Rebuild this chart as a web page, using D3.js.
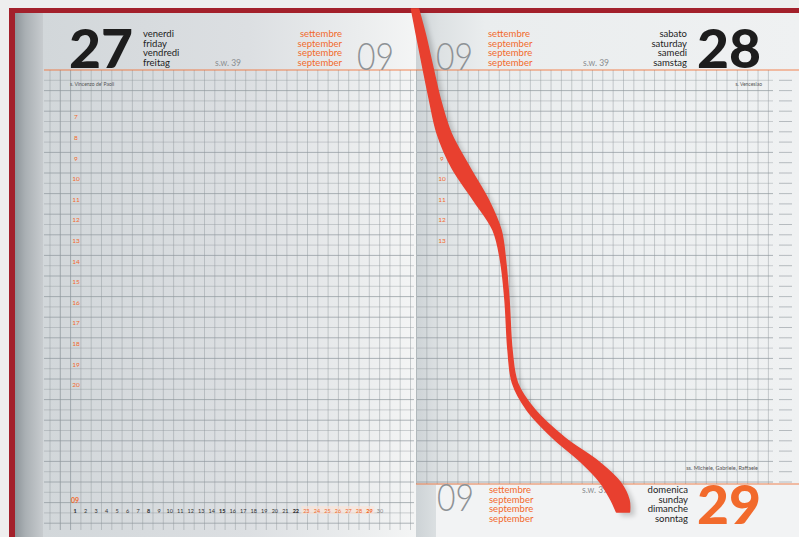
<!DOCTYPE html>
<html>
<head>
<meta charset="utf-8">
<script src="https://cdn.jsdelivr.net/npm/d3@7"></script>
<style>
  body { margin: 0; background: #eeeeee; }
  svg { display: block; }
  text { font-family: Lato, "Open Sans", "DejaVu Sans", sans-serif; }
</style>
</head>
<body>
<div class="diary"></div>
<script>
var svgWidth = 799;
var svgHeight = 537;

// diary content
var hoursFriday = [7, 8, 9, 10, 11, 12, 13, 14, 15, 16, 17, 18, 19, 20];
var hoursSaturday = [7, 8, 9, 10, 11, 12, 13];
var septDays = [1, 2, 3, 4, 5, 6, 7, 8, 9, 10, 11, 12, 13, 14, 15, 16, 17, 18, 19, 20, 21, 22, 23, 24, 25, 26, 27, 28, 29, 30];
var sundays = [1, 8, 15, 22, 29];
var currentWeek = [23, 24, 25, 26, 27, 28, 29];
var monthNames = ["settembre", "september", "septembre", "september"];
var fridayNames = ["venerdi", "friday", "vendredi", "freitag"];
var saturdayNames = ["sabato", "saturday", "samedi", "samstag"];
var sundayNames = ["domenica", "sunday", "dimanche", "sonntag"];
var saints = ["s. Vincenzo de' Paoli", "s. Venceslao", "ss. Michele, Gabriele, Raffaele"];
var dayNumbers = ["27", "28", "29"];
var monthNumber = "09";
var weekLabel = "s.w. 39";

// ribbon centre line: [x, y, width]
var ribbon = [
  [415, 9, 7], [421, 35, 9], [428, 68, 10], [435, 100, 11], [444, 133, 14],
  [461, 168, 18], [481, 200, 15], [497, 230, 8], [503, 260, 5], [507, 300, 4],
  [510, 350, 4], [515, 383, 5], [531, 410, 8], [559, 438, 12], [590, 462, 18],
  [610, 482, 20], [620, 500, 18], [623, 512, 13]
];

var orange = "#f26a2c";
var ink = "#1d1d1d";
var grey = "#8e9296";

var svg = d3.select(".diary")
  .append("svg")
  .attr("width", svgWidth)
  .attr("height", svgHeight);

var defs = svg.append("defs");

var leftGrad = defs.append("linearGradient").attr("id", "leftPage");
leftGrad.append("stop").attr("offset", "0%").attr("stop-color", "#d2d7da");
leftGrad.append("stop").attr("offset", "55%").attr("stop-color", "#dcdfe2");
leftGrad.append("stop").attr("offset", "85%").attr("stop-color", "#ebedee");
leftGrad.append("stop").attr("offset", "100%").attr("stop-color", "#f4f5f5");

var rightGrad = defs.append("linearGradient").attr("id", "rightPage");
rightGrad.append("stop").attr("offset", "0%").attr("stop-color", "#cdd3d6");
rightGrad.append("stop").attr("offset", "6%").attr("stop-color", "#dde1e3");
rightGrad.append("stop").attr("offset", "18%").attr("stop-color", "#eaedee");
rightGrad.append("stop").attr("offset", "100%").attr("stop-color", "#eff1f2");

var edgeGrad = defs.append("linearGradient").attr("id", "pageEdge");
edgeGrad.append("stop").attr("offset", "0%").attr("stop-color", "#8d9499");
edgeGrad.append("stop").attr("offset", "35%").attr("stop-color", "#a9afb3");
edgeGrad.append("stop").attr("offset", "100%").attr("stop-color", "#c9cdd0");

defs.append("filter").attr("id", "blur")
  .append("feGaussianBlur").attr("stdDeviation", 2.5);

// cover and pages
svg.append("rect").attr("x", 9).attr("y", 8).attr("width", 790).attr("height", 529).attr("fill", "#a3202b");
svg.append("rect").attr("x", 15).attr("y", 13).attr("width", 29).attr("height", 524).attr("fill", "url(#pageEdge)");
svg.append("rect").attr("x", 43).attr("y", 13).attr("width", 373).attr("height", 524).attr("fill", "url(#leftPage)");
svg.append("rect").attr("x", 416).attr("y", 13).attr("width", 383).attr("height", 524).attr("fill", "url(#rightPage)");
svg.append("rect").attr("x", 436).attr("y", 485).attr("width", 363).attr("height", 52).attr("fill", "#f2f3f4");

// grid scales
var rowY = d3.scaleLinear().domain([0, 1]).range([70, 80.3]);
var leftColX = d3.scaleLinear().domain([0, 1]).range([50, 60.3]);
var rightColX = d3.scaleLinear().domain([0, 1]).range([416.5, 426.85]);
var hourY = d3.scaleLinear().domain([7, 20]).range([117, 385]);
var dayX = d3.scaleLinear().domain([1, 30]).range([75, 380]);

var leftRows = d3.range(1, 45);
var rightRows = d3.range(1, 41);
var leftCols = d3.range(0, 36);
var rightCols = d3.range(0, 35);

var gridLeft = svg.append("g").attr("stroke", "#8f979c");
gridLeft.selectAll("line.h")
  .data(leftRows)
  .enter()
  .append("line")
  .attr("x1", 44).attr("x2", 414)
  .attr("y1", d => rowY(d)).attr("y2", d => rowY(d))
  .attr("stroke-opacity", d => d % 2 ? 0.4 : 0.7);
gridLeft.selectAll("line.v")
  .data(leftCols)
  .enter()
  .append("line")
  .attr("x1", d => leftColX(d)).attr("x2", d => leftColX(d))
  .attr("y1", rowY(0)).attr("y2", 530)
  .attr("stroke-opacity", d => d == 1 || d == 2 ? 0.75 : 0.45);

var gridRight = svg.append("g").attr("stroke", "#8f979c");
gridRight.selectAll("line.h")
  .data(rightRows)
  .enter()
  .append("line")
  .attr("x1", 417).attr("x2", 773)
  .attr("y1", d => rowY(d)).attr("y2", d => rowY(d))
  .attr("stroke-opacity", d => d % 2 ? 0.4 : 0.7);
gridRight.selectAll("line.stub")
  .data(rightRows)
  .enter()
  .append("line")
  .attr("x1", 779).attr("x2", 792)
  .attr("y1", d => rowY(d)).attr("y2", d => rowY(d))
  .attr("stroke-opacity", 0.6);
gridRight.selectAll("line.v")
  .data(rightCols)
  .enter()
  .append("line")
  .attr("x1", d => rightColX(d)).attr("x2", d => rightColX(d))
  .attr("y1", rowY(0)).attr("y2", 484)
  .attr("stroke-opacity", 0.45);

// orange rules
svg.append("line").attr("x1", 44).attr("x2", 799).attr("y1", 70).attr("y2", 70)
  .attr("stroke", orange).attr("stroke-width", 1.2).attr("stroke-opacity", 0.8);
svg.append("line").attr("x1", 416).attr("x2", 799).attr("y1", 484).attr("y2", 484)
  .attr("stroke", orange).attr("stroke-width", 1.2).attr("stroke-opacity", 0.8);

// hour labels
svg.append("g").selectAll("text")
  .data(hoursFriday)
  .enter()
  .append("text")
  .attr("x", 76).attr("y", d => hourY(d)).attr("dy", "0.35em")
  .attr("text-anchor", "middle").attr("font-size", 6.5).attr("fill", orange)
  .text(d => d);
svg.append("g").selectAll("text")
  .data(hoursSaturday)
  .enter()
  .append("text")
  .attr("x", 442).attr("y", d => hourY(d)).attr("dy", "0.35em")
  .attr("text-anchor", "middle").attr("font-size", 6.5).attr("fill", orange)
  .text(d => d);

// header blocks
function stack(names, x, baselines, anchor, color) {
  svg.append("g").selectAll("text")
    .data(names)
    .enter()
    .append("text")
    .attr("x", x).attr("y", (d, i) => baselines[i])
    .attr("text-anchor", anchor).attr("font-size", 9.5).attr("fill", color)
    .text(d => d);
}
var topLines = [37, 46.5, 56, 65.5];
var bottomLines = [493, 502.5, 512, 521.5];

function bigNumber(txt, x, y, color) {
  svg.append("text").attr("x", x).attr("y", y)
    .attr("font-size", 54).attr("font-weight", 900).attr("fill", color)
    .attr("textLength", 64).attr("lengthAdjust", "spacingAndGlyphs")
    .text(txt);
}
function monthDigits(x, y) {
  svg.append("text").attr("x", x).attr("y", y)
    .attr("font-size", 38).attr("font-weight", 300).attr("fill", grey)
    .attr("textLength", 37).attr("lengthAdjust", "spacingAndGlyphs")
    .text(monthNumber);
}
function week(x, y) {
  svg.append("text").attr("x", x).attr("y", y)
    .attr("font-size", 8.5).attr("fill", "#8a8d90")
    .text(weekLabel);
}

// friday 27
bigNumber(dayNumbers[0], 69, 68, ink);
stack(fridayNames, 143, topLines, "start", ink);
week(215, 65.5);
stack(monthNames, 342, topLines, "end", orange);
monthDigits(357, 70);
svg.append("text").attr("x", 70).attr("y", 85.5).attr("font-size", 5).attr("fill", "#555")
  .text(saints[0]);

// saturday 28
monthDigits(436, 70);
stack(monthNames, 488, topLines, "start", orange);
week(583, 65.5);
stack(saturdayNames, 687, topLines, "end", ink);
bigNumber(dayNumbers[1], 697, 68, ink);
svg.append("text").attr("x", 762).attr("y", 85.5).attr("text-anchor", "end")
  .attr("font-size", 5).attr("fill", "#555").text(saints[1]);

// sunday 29
monthDigits(437, 511);
stack(monthNames, 489, bottomLines, "start", orange);
week(582, 493);
stack(sundayNames, 688, bottomLines, "end", ink);
bigNumber(dayNumbers[2], 697, 524, orange);
svg.append("text").attr("x", 758).attr("y", 469.5).attr("text-anchor", "end")
  .attr("font-size", 5.5).attr("fill", "#555").text(saints[2]);

// month calendar
svg.append("text").attr("x", 71).attr("y", 503).attr("font-size", 7)
  .attr("font-weight", 700).attr("fill", orange).text(monthNumber);
svg.append("rect").attr("x", dayX(23) - 5).attr("y", 506).attr("width", dayX(29) - dayX(23) + 10)
  .attr("height", 8).attr("fill", "#fbe3d6").attr("opacity", 0.6);
svg.append("g").selectAll("text")
  .data(septDays)
  .enter()
  .append("text")
  .attr("x", d => dayX(d)).attr("y", 512.5)
  .attr("text-anchor", "middle").attr("font-size", 5.5)
  .attr("font-weight", d => sundays.includes(d) ? 900 : 400)
  .attr("fill", d => currentWeek.includes(d) ? orange : (d == 30 ? "#888" : "#333"))
  .text(d => d);

// ribbon bookmark
var ribbonArea = d3.area()
  .y(d => d[1])
  .x0(d => d[0] - d[2] / 2)
  .x1(d => d[0] + d[2] / 2)
  .curve(d3.curveCatmullRom);

svg.append("path")
  .datum(ribbon)
  .attr("d", ribbonArea)
  .attr("transform", "translate(5,4)")
  .attr("fill", "#000").attr("opacity", 0.18)
  .attr("filter", "url(#blur)");
svg.append("path")
  .datum(ribbon)
  .attr("d", ribbonArea)
  .attr("fill", "#e8402f")
  .attr("stroke", "#e8402f").attr("stroke-width", 1.5).attr("stroke-linejoin", "round");
</script>
</body>
</html>
